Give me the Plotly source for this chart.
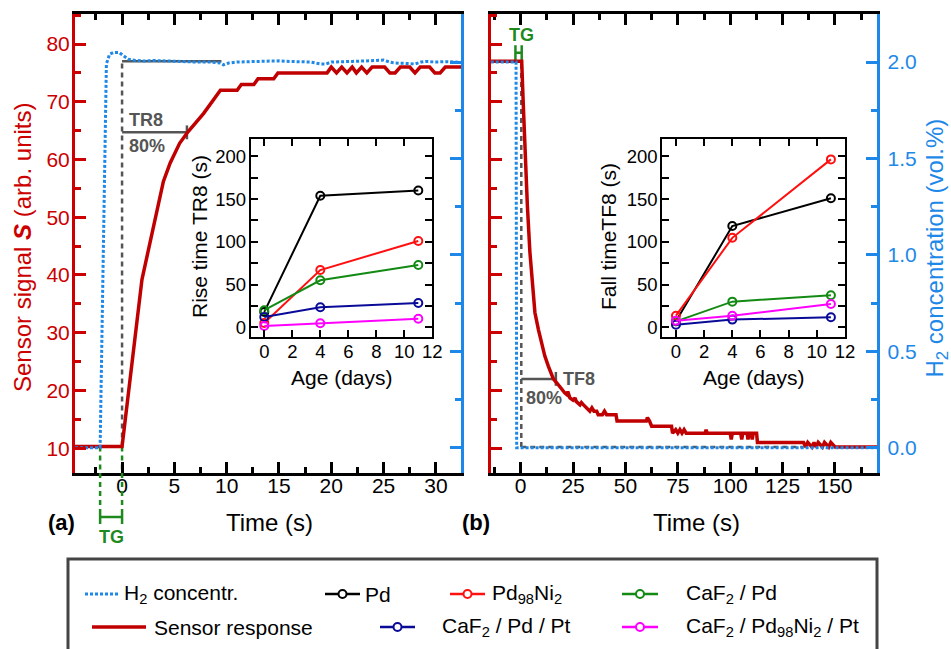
import plotly.graph_objects as go

W, H = 951, 649
def px(x): return x / W
def py(y): return 1 - y / H

FONT = "Arial, 'Liberation Sans', sans-serif"
RED_AX = "#CC0000"
RED_LINE = "#C00000"
BLUE = "#1E88E8"
GRAY = "#555555"
GREEN = "#1E8A1E"

# ---------------- data: panel (a) rise ----------------
time_a = [-4.5, 0, 1.9, 2.4, 3.2, 3.95, 4.6, 5.5, 6.3, 7.8, 9.4, 11.0, 11.4, 12.6, 13.0, 14.5, 14.9,
          19.6, 20.0, 20.5, 21.0, 21.5, 22.0, 22.4, 22.9, 23.4, 23.9, 25.1, 25.6, 26.1, 26.6, 27.5,
          28.0, 28.5, 29.4, 29.9, 30.4, 30.9, 32.4]
signal_a = [10.3, 10.3, 39.2, 43.3, 49.8, 56.2, 59.4, 62.8, 64.8, 68.0, 72.0, 72.0, 73.0, 73.0, 74.0, 74.0, 75.0,
            75.0, 76.0, 75.0, 76.0, 75.0, 76.0, 75.0, 76.0, 75.0, 76.0, 76.0, 75.0, 75.0, 76.0, 76.0,
            75.0, 76.0, 76.0, 75.0, 75.0, 76.0, 76.0]
h2_time_a = [-4.5, -2.1, -1.5, -1.2, -0.8, -0.3, 0.2, 0.6, 1.0, 2.0, 3.0, 4.0, 5.0, 6.0, 7.0, 8.5, 9.4,
             9.7, 10.2, 11, 12, 13, 14, 15, 16, 17, 18, 19, 19.5, 20, 21, 22, 23, 24, 25, 25.6, 26, 27,
             28, 28.6, 29, 30, 31, 32.4]
h2_a = [0.0, 0.0, 1.99, 2.04, 2.05, 2.05, 2.03, 2.015, 2.01, 2.005, 2.008, 2.006, 2.002, 2.0, 2.0, 2.0, 1.995,
        1.985, 1.995, 2.0, 2.002, 2.004, 2.005, 2.006, 2.003, 2.0, 2.0, 1.99, 1.99, 2.0, 2.003, 2.003,
        2.005, 2.008, 2.01, 2.0, 1.995, 1.993, 1.99, 2.0, 2.003, 2.0, 2.002, 1.998]

# ---------------- data: panel (b) fall ----------------
time_b = [-14.3, 0.5, 1.2, 2.0, 3.2, 4.4, 5.5, 6.8, 8.5, 10, 11.5, 13.2, 15.6, 17.5, 19.6, 21, 22, 22.5,
          23.5, 25, 26, 26.5, 28.3, 29, 30, 31.5, 33, 34, 35, 36.3, 37, 39, 40, 41, 45.5, 46, 60, 60.5,
          61.5, 62.5, 72, 72.5, 74, 75, 76, 77, 78, 79, 88, 88.5, 89, 100, 100.5, 101, 105, 105.5, 106,
          108, 108.5, 109, 110, 110.5, 111, 112.6, 113, 135, 136, 137, 139, 140, 141, 142, 144, 145,
          147, 148, 150, 170.2]
signal_b = [77, 77, 70, 62, 52, 44, 39, 33.5, 30.5, 28.2, 26, 24.2, 22, 21.2, 20.1, 19.6, 19.3, 19.8,
            18.7, 18.3, 18.7, 18.1, 17.5, 17.9, 17.5, 16.9, 16.4, 17.0, 16.4, 16.4, 15.8, 15.8, 16.4, 15.8, 15.8, 14.7, 14.7, 15.3,
            14.7, 13.8, 13.8, 12.6, 13.2, 12.6, 13.2, 12.6, 13.2, 12.6, 12.6, 13.2, 12.6, 12.6, 11.5, 12.6, 12.6, 11.5, 12.6,
            12.6, 11.5, 12.6, 12.6, 11.5, 12.6, 12.6, 11.0, 11.0, 10.2, 11.0, 10.2, 11.0, 10.2, 11.0, 10.2, 11.0,
            10.2, 11.0, 10.2, 10.2]
h2_time_b = [-14.3, -2.2, -1.9, 170.2]
h2_b = [2.0, 2.0, 0.0, 0.0]

# ---------------- markers: TR8 / TF8 / TG ----------------
base_level = 10.3
final_level = 77.0
rise_start = 0.0
final_line_end = 9.5
tr8_level = 64.7
tr8_time = 6.2
fall_start = 0.3
fall_base = 10.2
fall_base_end = 135.0
tf8_level = 22.0
tf8_time = 16.8
tg_a = [-2.1, 0.0]
tg_b = [-2.5, 0.5]

# ---------------- inset data ----------------
age_days = [0, 4, 11]
materials = ["Pd", "Pd<sub>98</sub>Ni<sub>2</sub>", "CaF<sub>2</sub> / Pd", "CaF<sub>2</sub> / Pd / Pt",
             "CaF<sub>2</sub> / Pd<sub>98</sub>Ni<sub>2</sub> / Pt"]
mat_colors = ["#000000", "#FF1010", "#138A13", "#0A0A98", "#FF00FF"]
rise_pd = [18, 154, 160]
rise_pdni = [5, 67, 101]
rise_caf_pd = [20, 55, 73]
rise_caf_pd_pt = [12, 23.5, 28.5]
rise_caf_pdni_pt = [1.5, 4.7, 10]
fall_pd = [7, 118.5, 151]
fall_pdni = [13.6, 104.7, 196.5]
fall_caf_pd = [7, 30, 37.5]
fall_caf_pd_pt = [3, 9, 11.7]
fall_caf_pdni_pt = [7.8, 13.6, 27.3]
rise_sets = [rise_pd, rise_pdni, rise_caf_pd, rise_caf_pd_pt, rise_caf_pdni_pt]
fall_sets = [fall_pd, fall_pdni, fall_caf_pd, fall_caf_pd_pt, fall_caf_pdni_pt]

# ---------------- layout geometry (pixels) ----------------
A_X = (75, 461)
B_X = (490.7, 877.3)
MAIN_Y = (473, 14)
IA_X = (250.7, 432.3)
IB_X = (662.3, 845)
INS_Y = (336.7, 139.3)
S_RANGE = [5.7, 85.2]
C_RANGE = [-0.131, 2.249]

fig = go.Figure()
dash_gray = "5px,4px"

def line(x, y, xa, ya, color, width, dash=None):
    fig.add_trace(go.Scatter(x=x, y=y, xaxis=xa, yaxis=ya, mode="lines",
                             line=dict(color=color, width=width, dash=dash), hoverinfo="skip"))

# panel a annotation lines (red scale)
line([rise_start, rise_start], [base_level, final_level], "x", "y", GRAY, 2.5, dash_gray)
line([rise_start, final_line_end], [final_level, final_level], "x", "y", GRAY, 2.5)
line([rise_start, tr8_time], [tr8_level, tr8_level], "x", "y", GRAY, 2.5)
line([tr8_time, tr8_time], [tr8_level - 1.2, tr8_level + 1.2], "x", "y", GRAY, 2.5)
for t in tg_a:
    line([t, t], [base_level, S_RANGE[0]], "x", "y", GREEN, 2.5, dash_gray)
# panel a curves
line(time_a, signal_a, "x", "y", RED_LINE, 3.5)
line(h2_time_a, h2_a, "x", "y2", BLUE, 3, "3px,2px")

# panel b annotation lines
line([fall_start, fall_start], [fall_base, final_level], "x2", "y3", GRAY, 2.5, dash_gray)
line([fall_start, fall_base_end], [fall_base, fall_base], "x2", "y3", GRAY, 2.5, dash_gray)
line([fall_start, tf8_time], [tf8_level, tf8_level], "x2", "y3", GRAY, 2.5)
line([tf8_time, tf8_time], [tf8_level - 1.2, tf8_level + 1.2], "x2", "y3", GRAY, 2.5)
for t in tg_b:
    line([t, t], [final_level + 0.2, final_level + 2.8], "x2", "y3", GREEN, 2.5)
line(tg_b, [final_level + 1.5] * 2, "x2", "y3", GREEN, 2.5)
line(time_b, signal_b, "x2", "y3", RED_LINE, 3.5)
line(h2_time_b, h2_b, "x2", "y4", BLUE, 3, "3px,2px")

# insets
for sets, xa, ya in [(rise_sets, "x3", "y5"), (fall_sets, "x4", "y6")]:
    for vals, col in zip(sets, mat_colors):
        fig.add_trace(go.Scatter(x=age_days, y=vals, xaxis=xa, yaxis=ya, mode="lines+markers",
                                 line=dict(color=col, width=2),
                                 marker=dict(symbol="circle-open", size=8, color=col, line=dict(width=2, color=col)),
                                 hoverinfo="skip"))

# ---------------- legend (drawn in a pixel-space overlay axis) ----------------
leg_rows = [594, 627]
leg_items = [
    (0, 85, 118, 122, BLUE, "dot", "H<sub>2</sub> concentr."),
    (0, 325, 360, 363, mat_colors[0], "mk", materials[0]),
    (0, 450, 485, 490, mat_colors[1], "mk", materials[1]),
    (0, 622, 658, 684, mat_colors[2], "mk", materials[2]),
    (1, 92, 146, 152, RED_LINE, "solid", "Sensor response"),
    (1, 380, 415, 440, mat_colors[3], "mk", materials[3]),
    (1, 622, 658, 684, mat_colors[4], "mk", materials[4]),
]
annotations = []
for row, x0, x1, tx, col, kind, lab in leg_items:
    yy = leg_rows[row]
    if kind == "dot":
        line([x0, x1], [yy, yy], "x5", "y7", col, 3, "3px,2px")
    elif kind == "solid":
        line([x0, x1], [yy, yy], "x5", "y7", col, 3.5)
    else:
        line([x0, x1], [yy, yy], "x5", "y7", col, 2.5)
        fig.add_trace(go.Scatter(x=[(x0 + x1) / 2], y=[yy], xaxis="x5", yaxis="y7", mode="markers",
                                 marker=dict(symbol="circle", size=8, color="white", line=dict(width=2, color=col)),
                                 hoverinfo="skip"))
    annotations.append(dict(x=tx, y=yy, xref="x5", yref="y7", text=lab, showarrow=False,
                            xanchor="left", yanchor="middle", font=dict(size=21, color="black", family=FONT)))

# ---------------- axes ----------------
def main_x(domain, rng, anchor, dtick, minor):
    return dict(domain=[px(domain[0]), px(domain[1])], range=rng, anchor=anchor, automargin=False,
                showline=True, linecolor="black", linewidth=3, mirror="ticks",
                ticks="inside", ticklen=11, tickwidth=2.5, tickcolor="black",
                tick0=0, dtick=dtick, minor=dict(dtick=minor, tick0=0, ticks="inside", ticklen=6, tickwidth=2.5, tickcolor="black"),
                tickfont=dict(size=21, color="black", family=FONT), showgrid=False, zeroline=False,
                ticklabelstandoff=-8)

def red_y(anchor, labels):
    return dict(domain=[py(MAIN_Y[0]), py(MAIN_Y[1])], range=S_RANGE, anchor=anchor, side="left", automargin=False,
                showline=True, linecolor=RED_AX, linewidth=3, ticks="inside", ticklen=11, tickwidth=2.5,
                tickcolor=RED_AX, tick0=0, dtick=10,
                minor=dict(dtick=5, tick0=0, ticks="inside", ticklen=6, tickwidth=2.5, tickcolor=RED_AX),
                tickfont=dict(size=21, color=RED_AX, family=FONT), showticklabels=labels,
                showgrid=False, zeroline=False, ticklabelstandoff=-2)

def blue_y(anchor, over, labels):
    return dict(range=C_RANGE, anchor=anchor, overlaying=over, side="right", automargin=False,
                showline=True, linecolor=BLUE, linewidth=3, ticks="inside", ticklen=11, tickwidth=2.5,
                tickcolor=BLUE, tick0=0, dtick=0.5, tickformat=".1f",
                minor=dict(dtick=0.25, tick0=0, ticks="inside", ticklen=6, tickwidth=2.5, tickcolor=BLUE),
                tickfont=dict(size=21, color=BLUE, family=FONT), showticklabels=labels,
                showgrid=False, zeroline=False, ticklabelstandoff=3)

def inset_x(domain, anchor):
    return dict(domain=[px(domain[0]), px(domain[1])], range=[-0.97, 12], anchor=anchor, automargin=False,
                showline=True, linecolor="black", linewidth=2, mirror="ticks",
                ticks="inside", ticklen=7, tickwidth=2, tickcolor="black", tick0=0, dtick=2,
                tickfont=dict(size=18.5, color="black", family=FONT), showgrid=False, zeroline=False,
                ticklabelstandoff=-3)

def inset_y(anchor):
    return dict(domain=[py(INS_Y[0]), py(INS_Y[1])], range=[-11, 220], anchor=anchor, automargin=False,
                showline=True, linecolor="black", linewidth=2, mirror="ticks",
                ticks="inside", ticklen=7, tickwidth=2, tickcolor="black", tick0=0, dtick=50,
                minor=dict(dtick=25, tick0=0, ticks="inside", ticklen=7, tickwidth=2, tickcolor="black"),
                tickfont=dict(size=18.5, color="black", family=FONT), showgrid=False, zeroline=False,
                ticklabelstandoff=-1)

fig.update_layout(
    width=W, height=H, autosize=False, margin=dict(l=0, r=0, t=0, b=0, pad=0),
    paper_bgcolor="white", plot_bgcolor="rgba(0,0,0,0)", showlegend=False,
    font=dict(family=FONT),
    xaxis=main_x(A_X, [-4.5, 32.4], "y", 5, 2.5),
    yaxis=red_y("x", True),
    yaxis2=blue_y("x", "y", False),
    xaxis2=main_x(B_X, [-14.3, 170.2], "y3", 25, 12.5),
    yaxis3=red_y("x2", False),
    yaxis4=blue_y("x2", "y3", True),
    xaxis3=inset_x(IA_X, "y5"),
    yaxis5=inset_y("x3"),
    xaxis4=inset_x(IB_X, "y6"),
    yaxis6=inset_y("x4"),
    xaxis5=dict(domain=[0, 1], range=[0, W], anchor="y7", visible=False, automargin=False),
    yaxis7=dict(domain=[0, 1], range=[H, 0], anchor="x5", visible=False, automargin=False),
)

# ---------------- text ----------------
def ann(x, y, text, size, color, xref="paper", yref="paper", angle=0, xanchor="center", bold=False):
    if bold:
        text = "<b>" + text + "</b>"
    annotations.append(dict(x=x, y=y, xref=xref, yref=yref, text=text, showarrow=False, textangle=angle,
                            xanchor=xanchor, yanchor="middle", font=dict(size=size, color=color, family=FONT)))

ann(px(22), py(248), "Sensor signal <b><i>S</i></b> (arb. units)", 24, RED_AX, angle=-90)
ann(px(935.5), py(248), "H<sub>2</sub> concentration (vol.%)", 24, BLUE, angle=-90)
ann(px(269), py(522), "Time (s)", 24, "black")
ann(px(696.7), py(522), "Time (s)", 24, "black")
ann(px(61), py(522), "(a)", 22, "black", bold=True)
ann(px(476), py(522), "(b)", 22, "black", bold=True)
ann(px(200), py(237), "Rise time TR8 (s)", 21, "black", angle=-90)
ann(px(609), py(237), "Fall timeTF8 (s)", 21, "black", angle=-90)
ann(px(341.5), py(377), "Age (days)", 21, "black")
ann(px(753.7), py(377), "Age (days)", 21, "black")
ann(rise_start + 0.45, tr8_level + 2.1, "TR8", 18, GRAY, "x", "y", xanchor="left", bold=True)
ann(rise_start + 0.45, tr8_level - 2.3, "80%", 18, GRAY, "x", "y", xanchor="left", bold=True)
ann(tf8_time + 2.5, tf8_level, "TF8", 18, GRAY, "x2", "y3", xanchor="left", bold=True)
ann(fall_start + 1.5, tf8_level - 3.3, "80%", 18, GRAY, "x2", "y3", xanchor="left", bold=True)
ann(sum(tg_a) / 2, py(537), "TG", 18, GREEN, "x", "paper", bold=True)
ann(tg_b[1], final_level + 4.5, "TG", 18, GREEN, "x2", "y3", bold=True)

shapes = []
for t in tg_a:
    shapes.append(dict(type="line", xref="x", yref="paper", x0=t, x1=t, y0=py(MAIN_Y[0]), y1=py(510),
                       line=dict(color=GREEN, width=2.5, dash=dash_gray)))
    shapes.append(dict(type="line", xref="x", yref="paper", x0=t, x1=t, y0=py(510), y1=py(524),
                       line=dict(color=GREEN, width=2.5)))
shapes.append(dict(type="line", xref="x", yref="paper", x0=tg_a[0], x1=tg_a[1], y0=py(517), y1=py(517),
                   line=dict(color=GREEN, width=2.5)))
shapes.append(dict(type="rect", xref="paper", yref="paper", x0=px(68), x1=px(877), y0=py(559), y1=py(660),
                   line=dict(color="#444444", width=3), fillcolor="rgba(0,0,0,0)"))

fig.update_layout(annotations=annotations, shapes=shapes)
fig.write_html("out.html", config={"displayModeBar": False},
               post_script="document.body.style.margin='0';document.body.style.overflow='hidden';")
